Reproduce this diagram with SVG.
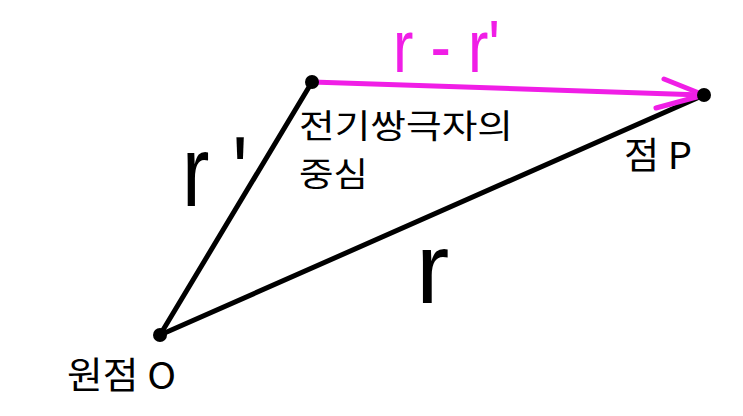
<svg xmlns="http://www.w3.org/2000/svg" width="743" height="416" viewBox="0 0 743 416">
<style>
.ln{stroke:#000;stroke-width:5;stroke-linecap:round;fill:none}
.mg{stroke:#f01ee6;stroke-width:5;stroke-linecap:round;stroke-linejoin:round;fill:none}
.dot{fill:#000}
.ko{font-family:"Noto Sans CJK KR","Noto Sans",sans-serif;font-size:37px;fill:#000}
.ks{font-family:"Noto Sans CJK KR","Noto Sans",sans-serif;font-size:33px;fill:#000}
.big{font-family:"Liberation Sans","Noto Sans",sans-serif;font-size:100px;fill:#000}
</style>
<rect width="743" height="416" fill="#fff"/>
<g id="connectors">
<line class="ln" x1="160" y1="335" x2="312" y2="82"/>
<line class="ln" x1="160" y1="335" x2="704" y2="95"/>
<line class="mg" x1="312" y1="82" x2="702" y2="95"/>
<polyline class="mg" points="664,79 704,95 656,108"/>
</g>
<g id="origin">
<circle class="dot" cx="160" cy="335" r="7"/>
<text class="ko" x="67" y="389" textLength="109" lengthAdjust="spacingAndGlyphs">원점 O</text>
</g>
<g id="dipole">
<circle class="dot" cx="312" cy="82" r="7"/>
<text class="ks" x="299" y="138" textLength="214" lengthAdjust="spacingAndGlyphs">전기쌍극자의</text>
<text class="ks" x="299" y="186" textLength="69" lengthAdjust="spacingAndGlyphs">중심</text>
</g>
<g id="pointP">
<circle class="dot" cx="704" cy="95" r="7"/>
<text class="ko" x="624" y="169" textLength="68" lengthAdjust="spacingAndGlyphs">점 P</text>
</g>
<g id="labels">
<text font-family="'Liberation Sans',sans-serif" font-size="74" fill="#f01ee6" x="393" y="72" textLength="107" lengthAdjust="spacingAndGlyphs">r - r'</text>
<text class="big" x="182" y="206" textLength="66" lengthAdjust="spacingAndGlyphs">r '</text>
<text class="big" x="416" y="303">r</text>
</g>
</svg>
